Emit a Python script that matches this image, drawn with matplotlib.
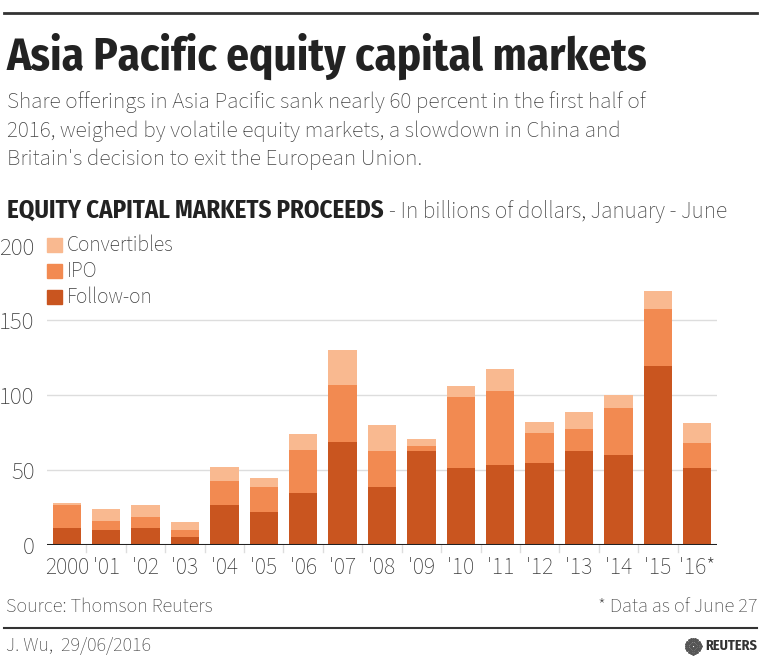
import matplotlib
matplotlib.use("Agg")
import matplotlib.pyplot as plt
import numpy as np
from matplotlib import font_manager
from matplotlib.lines import Line2D

# light narrow face for body text, condensed bold face for headings
installed = {f.name for f in font_manager.fontManager.ttflist}
body = next((c for c in ["Source Sans 3", "Source Sans Pro", "Roboto Condensed"]
             if c in installed), "DejaVu Sans")
bold = next((c for c in ["Fira Sans Condensed", "Roboto Condensed"] if c in installed),
            "DejaVu Sans")
plt.rcParams['font.family'] = [body, 'DejaVu Sans']

# data, billions of dollars, January - June
years = ["2000", "'01", "'02", "'03", "'04", "'05", "'06", "'07", "'08",
         "'09", "'10", "'11", "'12", "'13", "'14", "'15", "'16*"]
follow_on = [11.6, 9.8, 11.6, 5.1, 26.5, 22.3, 34.5, 68.6, 38.6,
             62.8, 51.4, 53.2, 55.0, 62.8, 60.3, 119.4, 51.4]
ipo = [14.9, 6.5, 6.9, 4.9, 16.5, 16.4, 29.2, 38.3, 24.3,
       3.5, 47.2, 49.9, 19.8, 14.7, 31.0, 38.5, 17.0]
convertibles = [1.8, 8.0, 8.0, 5.4, 8.9, 5.8, 10.2, 23.4, 17.3,
                4.3, 7.8, 14.5, 7.4, 11.5, 8.7, 12.0, 13.1]

c_follow = "#C9551F"
c_ipo = "#F28A51"
c_conv = "#F9B990"
c_text = "#3A3A3A"

W, H = 770, 668
fig = plt.figure(figsize=(W / 100, H / 100), dpi=100)
renderer = fig.canvas.get_renderer()

def fx(px):
    return px / W

def fy(py):
    return 1 - py / H

def fit(t, width_px):
    # scale a text so it spans the given width in pixels
    w = t.get_window_extent(renderer).width
    t.set_fontsize(t.get_fontsize() * width_px / w)
    return t

# axes: x 47..717 px, y value 0 at 545 px, 200 at 245.6 px
ax = fig.add_axes([fx(47), fy(545), fx(717) - fx(47), fy(245.6) - fy(545)])
x = np.arange(len(years))
ax.bar(x, follow_on, width=0.72, color=c_follow, zorder=3)
ax.bar(x, ipo, width=0.72, bottom=follow_on, color=c_ipo, zorder=3)
bottom2 = np.array(follow_on) + np.array(ipo)
ax.bar(x, convertibles, width=0.72, bottom=bottom2, color=c_conv, zorder=3)

ax.set_xlim(-0.5, len(years) - 0.5)
ax.set_ylim(0, 200)
for v in [50, 100, 150]:
    ax.axhline(v, color="#DDDDDD", lw=1, zorder=1)
ax.axhline(0, color="#222222", lw=2.2, zorder=4)

for s in ax.spines.values():
    s.set_visible(False)
ax.set_yticks([0, 50, 100, 150, 200])
ax.tick_params(axis="y", length=0, labelsize=18, labelcolor=c_text, pad=9)
ax.set_xticks(x)
ax.set_xticklabels(years)
ax.tick_params(axis="x", length=0, labelsize=17, labelcolor=c_text, pad=8)
# small separators between categories below the axis
for b in np.arange(0.5, len(years) - 0.5, 1):
    ax.plot([b, b], [0, -5], color="#DDDDDD", lw=1, clip_on=False, zorder=2)

# legend
leg_items = [("Convertibles", c_conv), ("IPO", c_ipo), ("Follow-on", c_follow)]
leg_size = None
for i, (lab, col) in enumerate(leg_items):
    yy = 245 + i * 26
    fig.patches.append(plt.Rectangle((fx(47), fy(yy + 7)), fx(15), 14 / H,
                                     transform=fig.transFigure, color=col))
    t = fig.text(fx(67), fy(yy), lab, fontsize=17, color=c_text, va="center")
    if leg_size is None:
        leg_size = fit(t, 107).get_fontsize()
    t.set_fontsize(leg_size)

# header
fig.add_artist(Line2D([fx(4), fx(757)], [fy(13), fy(13)], color="#333333", lw=2))
t = fig.text(fx(7), fy(70), "Asia Pacific equity capital markets", fontsize=30,
             family=[bold, 'DejaVu Sans'], fontweight="bold", color="#222222",
             va="baseline")
fit(t, 641)
sub = ["Share offerings in Asia Pacific sank nearly 60 percent in the first half of",
       "2016, weighed by volatile equity markets, a slowdown in China and",
       "Britain's decision to exit the European Union."]
t = fig.text(fx(7), fy(108), sub[0], fontsize=17, color="#444444", va="baseline")
fit(t, 638)
for i, line in enumerate(sub[1:], start=1):
    fig.text(fx(7), fy(108 + 28.5 * i), line, fontsize=t.get_fontsize(),
             color="#444444", va="baseline")
t = fig.text(fx(7), fy(218), "EQUITY CAPITAL MARKETS PROCEEDS", fontsize=16,
             family=[bold, 'DejaVu Sans'], fontweight="bold", color="#222222",
             va="baseline")
fit(t, 377)
t2 = fig.text(fx(389), fy(218), "- In billions of dollars, January - June",
              fontsize=16, color="#444444", va="baseline")
fit(t2, 339)

# footer
t = fig.text(fx(6), fy(607), "Source: Thomson Reuters", fontsize=16, color="#444444",
             va="center")
fit(t, 207)
t = fig.text(fx(757), fy(607), "* Data as of June 27", fontsize=16, color="#444444",
             va="center", ha="right")
fit(t, 160)
fig.add_artist(Line2D([fx(4), fx(757)], [fy(628), fy(628)], color="#333333", lw=1.5))
t = fig.text(fx(6), fy(646), "J. Wu,  29/06/2016", fontsize=16, color="#444444",
             va="center")
fit(t, 145)
t = fig.text(fx(757), fy(646), "REUTERS", fontsize=12, family=[bold, 'DejaVu Sans'],
             fontweight="bold", color="#333333", va="center", ha="right")
fit(t, 52)
ang = np.linspace(0, 2 * np.pi, 20, endpoint=False)
for r in [2.5, 5, 7.5]:
    fig.add_artist(Line2D(fx(693) + r * np.cos(ang) / W, fy(646) + r * np.sin(ang) / H,
                          ls="none", marker="o", ms=1.1, color="#555555"))

fig.savefig("out.png", dpi=100)
